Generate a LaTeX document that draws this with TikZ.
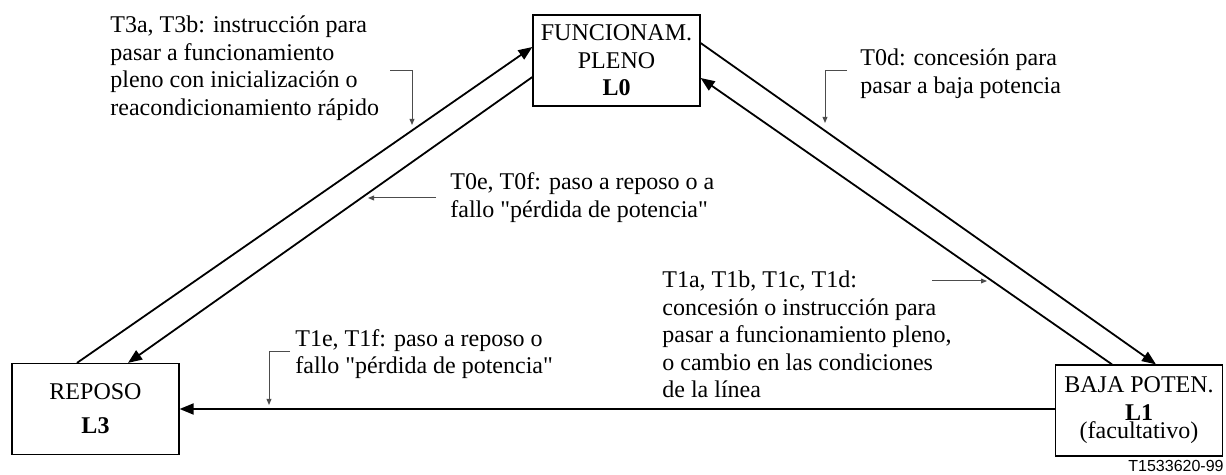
\documentclass[tikz,border=0pt]{standalone}
\usepackage{fontspec}
\setmainfont{Liberation Serif}
\newfontfamily\codefont{Liberation Sans}
\font\quotefont="Liberation Serif" at 12pt
\newcommand\dq{{\quotefont"}}
\usetikzlibrary{arrows.meta}

\begin{document}
\begin{tikzpicture}[x=0.5pt,y=-0.5pt,
  state/.style={draw,line width=0.6pt,minimum width=83.5pt,minimum height=45.5pt,
    inner sep=0pt,align=center,font=\fontsize{12}{13.75}\selectfont},
  note/.style={anchor=north west,inner sep=0pt,align=left,
    font=\fontsize{12}{13.75}\selectfont},
  arr/.style={-{Triangle[length=7pt,width=5.5pt]},line width=0.9pt},
  ptr/.style={-{Triangle[length=3pt,width=2.4pt]},line width=0.5pt,black!70}]
\useasboundingbox (0,0) rectangle (1226,475);
% states
\node[state] (l0) at (616.5,60.5) {FUNCIONAM.\\PLENO\\\textbf{L0}};
\node[state] (l3) at (95.5,409) {REPOSO\\[3.25pt]\textbf{L3}};
\node[state] (l1) at (1139,410.5) {BAJA POTEN.\\\textbf{L1}\\[-4.5pt](facultativo)};
% transitions
\draw[arr] ([xshift=-9.25pt]l3.north) -- ([yshift=6.75pt]l0.west);
\draw[arr] ([yshift=-8.25pt]l0.west) -- ([xshift=16.25pt]l3.north);
\draw[arr] ([yshift=8.75pt]l0.east) -- ([xshift=8.5pt]l1.north);
\draw[arr] ([xshift=-13.5pt]l1.north) -- ([yshift=-8.75pt]l0.east);
\draw[arr] (l1.west |- l3) -- (l3);
% notes
\node[note] (t3) at (110,15.6) {T3a, T3b: instrucción para\\pasar a funcionamiento\\pleno con inicialización o\\reacondicionamiento rápido};
\node[note] (t0e) at (450,172.6) {T0e, T0f: paso a reposo o a\\fallo \dq pérdida de potencia\dq};
\node[note] (t0d) at (860,48.6) {T0d: concesión para\\pasar a baja potencia};
\node[note] (t1) at (662,270.6) {T1a, T1b, T1c, T1d:\\concesión o instrucción para\\pasar a funcionamiento pleno,\\o cambio en las condiciones\\de la línea};
\node[note] (t1e) at (295,329) {T1e, T1f: paso a reposo o\\fallo \dq pérdida de potencia\dq};
\node[anchor=base east,inner sep=0pt,font=\codefont\fontsize{8}{9.6}\selectfont] (code) at (1224,472) {T1533620-99};
% pointers
\coordinate (p3s) at (390,71);
\coordinate (p3e) at (412,125);
\draw[ptr] (p3s) -| (p3e);
\coordinate (p0es) at (436,198);
\coordinate (p0ee) at (368,198);
\draw[ptr] (p0es) -- (p0ee);
\coordinate (p0ds) at (847,71);
\coordinate (p0de) at (825,123);
\draw[ptr] (p0ds) -| (p0de);
\coordinate (p1s) at (932,281);
\coordinate (p1e) at (987,281);
\draw[ptr] (p1s) -- (p1e);
\coordinate (p1es) at (290,352);
\coordinate (p1ee) at (269,405);
\draw[ptr] (p1es) -| (p1ee);
\end{tikzpicture}
\end{document}
